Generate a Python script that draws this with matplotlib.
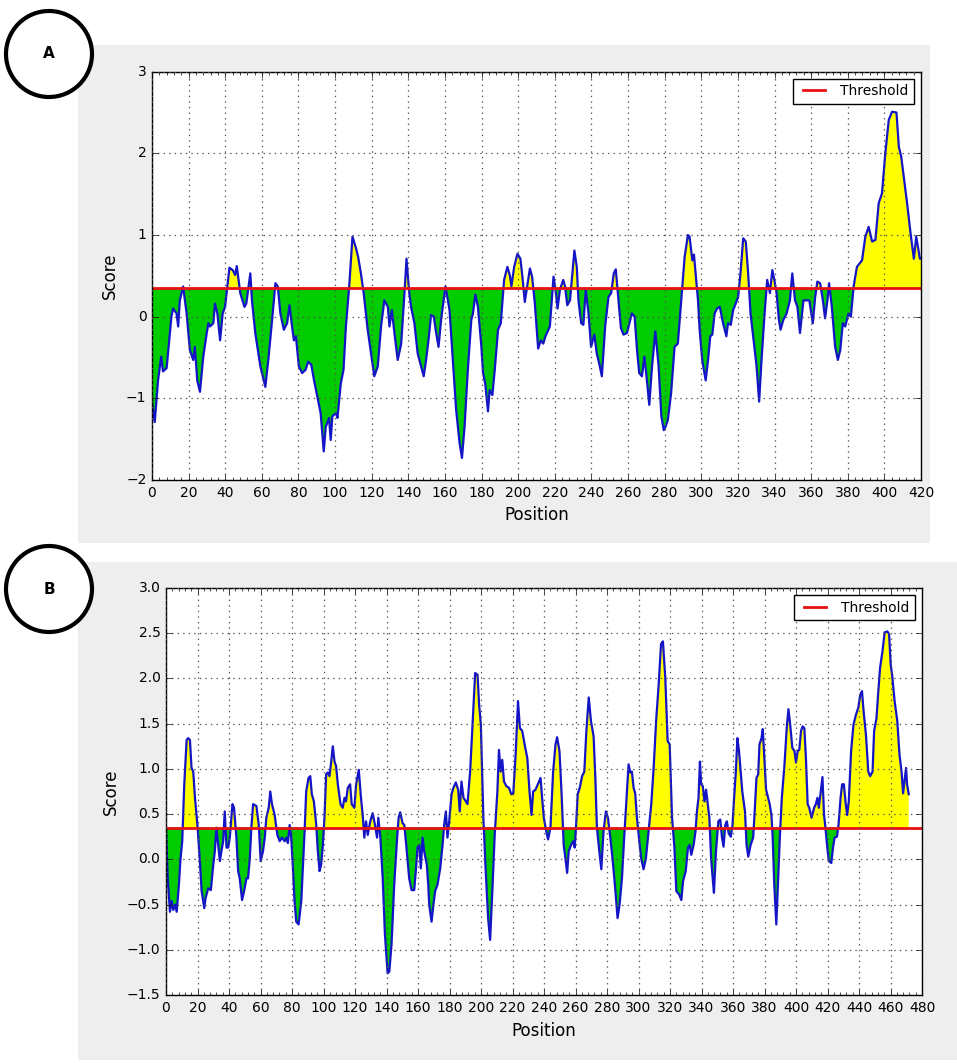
import matplotlib
matplotlib.use('Agg')
import matplotlib.pyplot as plt
from matplotlib.patches import Rectangle, Ellipse
from matplotlib.lines import Line2D
from matplotlib.ticker import AutoMinorLocator, MultipleLocator

plt.style.use('classic')

threshold = 0.35

# panel A: position / score
pos_a = [0, 1.5, 3.3, 5, 6, 8, 10.6, 11.5, 13.4, 14.3, 15.2, 17, 18.9, 20.7, 22.5, 23.4, 24.7, 26.2, 28, 29.9,
         30.8, 31.7, 33.5, 34.4, 35.7, 37.2, 38.6, 39.9, 42.3, 44.1, 45.4, 46.3, 48.2, 50.5, 51.5, 53.7, 54.6,
         56.4, 59.2, 61.9, 63.7, 65.6, 67.4, 68.7, 70.1, 72, 73.8, 75.1, 76.5, 77.5, 78.6, 80.2, 82, 83.9, 85.3,
         87, 88.5, 90.3, 92.1, 93.8, 94.9, 96.7, 97.6, 98.5, 100.4, 101.3, 103.1, 104.6, 105.9, 107.7, 109.5,
         111.4, 112.6, 114.1, 115.6, 117.8, 121.4, 123.3, 125.1, 126.9, 128.8, 129.7, 131, 132.4, 134.2, 136.1,
         137.9, 139, 140.5, 141.5, 143.3, 145.1, 147, 148.4, 149.7, 151, 152.4, 153.9, 155.2, 156.5, 157.9,
         158.8, 160.3, 162.5, 164.3, 166.1, 168, 169.3, 170.7, 172.5, 174.4, 175.3, 176.6, 178, 179.9, 180.8,
         182, 183.5, 184.4, 185.9, 187.2, 189, 190.5, 192.3, 194.1, 195.4, 196.3, 197.8, 199.6, 201.2, 202.3,
         203.6, 204.9, 206.4, 207.6, 209.1, 210.9, 212.4, 213.7, 214.9, 217.3, 219.3, 220.6, 221.5, 222.8,
         224.6, 225.6, 226.8, 228.3, 229.6, 230.7, 232, 232.9, 234.4, 235.6, 236.9, 238.4, 239.8, 241.6, 242.9,
         244.2, 245.7, 247.5, 249.3, 250.8, 252.2, 253.3, 254.8, 256.1, 257.5, 259.4, 260.3, 262.1, 263.6,
         264.9, 266.1, 267.6, 268.9, 270.3, 271.6, 273.1, 274.9, 276.7, 278.2, 279.5, 280.4, 281.7, 283.5,
         285.4, 287.2, 288.5, 289.9, 290.9, 292.7, 293.6, 295.1, 296, 296.9, 298.2, 299.1, 300.5, 302.4, 303.7,
         304.9, 306, 307.3, 308.6, 310.1, 311.9, 313.7, 314.6, 316.1, 317.4, 318.8, 320.1, 321.4, 322.9, 324.3,
         325.6, 326.9, 328.3, 330.2, 331.6, 332.9, 334.7, 336, 337.5, 338.8, 339.9, 341.1, 342.4, 343.3, 344.8,
         346.6, 348.4, 349.7, 351.2, 352.5, 353.9, 355.8, 357.6, 359, 360.9, 362.2, 363.4, 364.9, 366.4, 367.6,
         368.9, 369.8, 371.3, 373.1, 374.6, 375.9, 377.3, 378.6, 380.4, 381.7, 383.2, 385, 387.8, 389.6, 391.4,
         393.3, 395.1, 396.9, 398.7, 400.5, 402.4, 404.2, 406.6, 407.9, 409.2, 410.6, 412.4, 414.3, 416.1,
         417.4, 418.3, 419.4, 420]
score_a = [-1.05, -1.29, -0.78, -0.49, -0.67, -0.63, 0.0, 0.1, 0.04, -0.12, 0.2, 0.37, 0.04, -0.41, -0.53, -0.37,
           -0.78, -0.92, -0.49, -0.2, -0.08, -0.12, -0.08, 0.16, 0.04, -0.29, 0.04, 0.12, 0.6, 0.57, 0.51, 0.62,
           0.29, 0.12, 0.16, 0.53, 0.2, -0.2, -0.61, -0.86, -0.49, -0.04, 0.41, 0.37, 0.04, -0.16, -0.08, 0.14,
           -0.12, -0.29, -0.24, -0.61, -0.69, -0.65, -0.55, -0.59, -0.78, -0.98, -1.18, -1.65, -1.35, -1.24,
           -1.51, -1.22, -1.18, -1.24, -0.82, -0.65, -0.12, 0.37, 0.98, 0.84, 0.73, 0.53, 0.29, -0.16, -0.73,
           -0.61, -0.12, 0.2, 0.12, -0.12, 0.08, -0.2, -0.53, -0.33, 0.29, 0.71, 0.29, 0.12, -0.08, -0.45, -0.61,
           -0.73, -0.53, -0.29, 0.02, 0.0, -0.2, -0.37, -0.04, 0.12, 0.37, 0.08, -0.53, -1.14, -1.55, -1.73,
           -1.35, -0.65, -0.04, 0.04, 0.27, 0.12, -0.37, -0.69, -0.82, -1.16, -0.9, -0.96, -0.65, -0.16, -0.08,
           0.45, 0.61, 0.51, 0.37, 0.61, 0.77, 0.71, 0.49, 0.18, 0.37, 0.59, 0.49, 0.16, -0.39, -0.29, -0.33,
           -0.24, -0.12, 0.49, 0.29, 0.1, 0.33, 0.45, 0.37, 0.14, 0.2, 0.53, 0.81, 0.61, 0.2, -0.08, -0.1, 0.33,
           0.04, -0.37, -0.22, -0.45, -0.57, -0.73, -0.12, 0.24, 0.29, 0.53, 0.58, 0.2, -0.14, -0.22, -0.2,
           -0.12, 0.04, 0.0, -0.41, -0.69, -0.73, -0.49, -0.78, -1.08, -0.61, -0.18, -0.61, -1.22, -1.39, -1.35,
           -1.27, -0.94, -0.37, -0.33, 0.04, 0.45, 0.73, 1.0, 0.98, 0.69, 0.76, 0.53, 0.2, -0.16, -0.53, -0.78,
           -0.53, -0.24, -0.22, 0.04, 0.1, 0.12, -0.08, -0.24, -0.08, -0.1, 0.08, 0.16, 0.24, 0.53, 0.96, 0.92,
           0.53, 0.04, -0.24, -0.61, -1.04, -0.53, 0.08, 0.45, 0.29, 0.57, 0.45, 0.29, -0.04, -0.16, -0.04, 0.04,
           0.2, 0.53, 0.2, 0.12, -0.2, 0.2, 0.2, 0.2, -0.08, 0.24, 0.43, 0.41, 0.2, -0.02, 0.2, 0.41, 0.12, -0.37,
           -0.53, -0.41, -0.08, -0.12, 0.04, 0.0, 0.37, 0.61, 0.69, 0.98, 1.1, 0.92, 0.94, 1.39, 1.51, 2.0, 2.41,
           2.51, 2.5, 2.08, 1.96, 1.71, 1.39, 1.02, 0.71, 0.98, 0.86, 0.71, 0.71]

# panel B: position / score
pos_b = [0, 1.1, 2.5, 3.6, 4.6, 5.7, 6.8, 8.2, 9.1, 10.3, 11.6, 13.1, 14.1, 15.2, 16.2, 17.3, 18.4, 20, 21.5, 22.6,
         24.3, 25.1, 26.8, 28.5, 30, 31, 32, 33.1, 34.2, 35.2, 36.3, 37.3, 38.4, 39.5, 40.5, 42.2, 43.2, 44.7,
         45.8, 46.8, 48.3, 49.6, 51.1, 52.1, 53.2, 54.2, 55.3, 57.4, 58.9, 60.1, 61.6, 62.7, 63.7, 65.2, 66.2,
         67.3, 69, 70.7, 72.2, 73.6, 75.3, 76.4, 77.4, 78.5, 79.5, 80.6, 81.6, 82.7, 84.2, 85.9, 86.9, 88, 89,
         90.5, 91.6, 92.6, 93.9, 95.4, 96.4, 97.5, 98.5, 99.6, 100.6, 101.7, 102.7, 103.8, 104.9, 105.9, 107,
         108, 109.1, 110.8, 112.2, 113.3, 114.3, 115.4, 116.9, 117.9, 119.6, 120.7, 122.4, 123.8, 124.9, 125.9,
         127, 128.1, 129.7, 131.2, 132.7, 134, 134.8, 136.1, 137.6, 139, 140.7, 141.8, 143.2, 144.9, 146.6,
         147.7, 148.7, 150.2, 151.3, 152.3, 154.4, 155.9, 157.6, 158.6, 159.7, 160.8, 161.8, 162.9, 163.9,
         165.6, 166.5, 167.1, 168.6, 169.8, 170.9, 172.4, 174.1, 175.6, 176.6, 177.7, 178.7, 179.8, 181.3,
         182.5, 184, 185.5, 186.5, 187.6, 188.9, 190.4, 191.4, 193.1, 194.6, 196.3, 197.8, 198.8, 199.9, 201.5,
         203, 204.5, 205.8, 207.2, 208.7, 210.4, 211.4, 212.5, 213.5, 214.6, 216.1, 217.8, 219.2, 220.5, 222,
         223.5, 224.7, 226.2, 227.7, 229.4, 230.8, 232.1, 233.1, 234.6, 236.1, 237.8, 238.8, 239.9, 241.4,
         242.6, 244.1, 245.8, 247.3, 248.3, 249.8, 251.1, 252.5, 253.6, 254.7, 255.7, 257.2, 258.5, 259.5,
         260.4, 261.4, 262.7, 264.2, 265.6, 266.9, 268.4, 269.8, 271.5, 272.6, 273.6, 275.1, 276.4, 277.8,
         279.3, 280.6, 282.1, 283.5, 285.2, 286.7, 288, 289.5, 291, 292.2, 293.7, 294.8, 295.8, 296.9, 297.9,
         299, 300.5, 301.7, 303.2, 304.7, 306.4, 308.1, 309.6, 311.3, 312.8, 314.3, 315.5, 317, 318.5, 319.8,
         321.3, 322.8, 324, 325.8, 327.2, 328.3, 330, 331.4, 332.5, 333.5, 335, 336.2, 337.1, 338.1, 339,
         339.8, 340.8, 341.9, 342.9, 344, 345, 346.1, 347.1, 347.9, 349.2, 350.7, 351.9, 353, 354, 355.1,
         356.1, 357.2, 358.6, 359.7, 360.7, 361.8, 362.8, 363.8, 364.9, 365.9, 367.6, 368.6, 369.7, 371.2,
         372.8, 373.9, 374.9, 376, 376.8, 378.1, 378.9, 380.1, 381, 382.3, 383.3, 384.4, 385.2, 386.2, 387.5,
         388.5, 389.8, 391, 392.7, 394.1, 395.2, 396.3, 397.7, 399, 400, 401.1, 402.1, 403.2, 404.2, 405.3,
         406.3, 407.4, 408.4, 409.9, 411.5, 412.6, 413.6, 414.5, 415.7, 416.8, 417.8, 418.7, 419.7, 420.8,
         422.4, 423.5, 424.5, 426, 427, 428.3, 429.3, 430.4, 431.4, 432.5, 433.5, 435, 436.5, 438.1, 439.6,
         440.8, 441.9, 442.9, 444.4, 445.9, 447.1, 448.6, 449.6, 451.1, 452.1, 453.4, 454.9, 456.3, 458, 459.1,
         460.1, 461.2, 462.6, 464.3, 465.7, 467, 468, 469.1, 469.9, 470.5, 471.6]
score_b = [0.35, -0.21, -0.58, -0.46, -0.56, -0.5, -0.58, -0.28, -0.02, 0.2, 0.83, 1.32, 1.34, 1.32, 1.01, 0.97,
           0.68, 0.37, -0.02, -0.35, -0.54, -0.43, -0.32, -0.34, -0.06, 0.09, 0.35, 0.16, -0.02, 0.09, 0.2, 0.53,
           0.13, 0.13, 0.24, 0.61, 0.57, 0.24, -0.13, -0.21, -0.45, -0.35, -0.21, -0.21, 0.01, 0.35, 0.61, 0.59,
           0.38, -0.02, 0.09, 0.24, 0.46, 0.57, 0.75, 0.61, 0.49, 0.27, 0.2, 0.24, 0.2, 0.24, 0.18, 0.38, 0.24,
           -0.1, -0.46, -0.69, -0.72, -0.46, -0.1, 0.31, 0.75, 0.9, 0.92, 0.72, 0.64, 0.38, 0.09, -0.13, -0.06,
           0.16, 0.46, 0.94, 0.96, 0.92, 1.08, 1.25, 1.08, 1.03, 0.83, 0.61, 0.57, 0.68, 0.64, 0.79, 0.83, 0.61,
           0.57, 0.83, 0.99, 0.68, 0.49, 0.24, 0.42, 0.27, 0.42, 0.51, 0.38, 0.24, 0.46, 0.24, -0.21, -0.83,
           -1.26, -1.24, -0.94, -0.28, 0.2, 0.46, 0.52, 0.4, 0.38, 0.2, -0.21, -0.34, -0.34, -0.13, 0.13, 0.16,
           -0.1, 0.24, 0.09, -0.06, -0.28, -0.5, -0.69, -0.5, -0.35, -0.28, -0.1, 0.16, 0.38, 0.53, 0.24, 0.42,
           0.72, 0.79, 0.85, 0.77, 0.53, 0.86, 0.68, 0.64, 0.61, 0.97, 1.49, 2.06, 2.04, 1.71, 1.49, 0.46, -0.13,
           -0.65, -0.89, -0.35, 0.27, 0.75, 1.21, 0.97, 1.1, 0.86, 0.81, 0.79, 0.72, 0.73, 1.16, 1.75, 1.45, 1.42,
           1.27, 1.12, 0.75, 0.49, 0.75, 0.77, 0.83, 0.9, 0.68, 0.46, 0.31, 0.22, 0.35, 0.97, 1.27, 1.35, 1.2,
           0.75, 0.16, 0.01, -0.15, 0.09, 0.16, 0.2, 0.13, 0.38, 0.72, 0.79, 0.92, 0.97, 1.42, 1.79, 1.53, 1.36,
           0.9, 0.35, 0.09, -0.11, 0.31, 0.53, 0.46, 0.24, 0.01, -0.32, -0.65, -0.5, -0.21, 0.27, 0.61, 1.05,
           0.96, 0.97, 0.79, 0.73, 0.46, 0.2, 0.01, -0.11, 0.01, 0.31, 0.61, 1.01, 1.56, 1.93, 2.38, 2.41, 2.01,
           1.31, 1.27, 0.46, 0.13, -0.35, -0.39, -0.45, -0.24, -0.13, 0.13, 0.16, 0.05, 0.16, 0.31, 0.53, 0.68,
           1.08, 0.83, 0.81, 0.64, 0.77, 0.61, 0.46, 0.01, -0.21, -0.37, 0.09, 0.42, 0.44, 0.24, 0.14, 0.38, 0.42,
           0.29, 0.25, 0.38, 0.68, 0.97, 1.34, 1.2, 0.97, 0.75, 0.53, 0.16, 0.03, 0.16, 0.24, 0.57, 0.9, 0.94,
           1.27, 1.34, 1.44, 1.05, 0.77, 0.68, 0.61, 0.49, 0.24, -0.28, -0.72, -0.28, 0.27, 0.68, 1.05, 1.45,
           1.66, 1.49, 1.23, 1.2, 1.07, 1.2, 1.21, 1.42, 1.47, 1.45, 1.12, 0.61, 0.57, 0.46, 0.57, 0.61, 0.68,
           0.57, 0.75, 0.91, 0.49, 0.35, 0.16, -0.02, -0.04, 0.13, 0.24, 0.25, 0.38, 0.68, 0.83, 0.83, 0.64,
           0.49, 0.64, 1.2, 1.49, 1.6, 1.68, 1.82, 1.86, 1.64, 1.38, 0.97, 0.92, 0.97, 1.42, 1.56, 1.82, 2.12,
           2.3, 2.51, 2.52, 2.49, 2.16, 2.01, 1.75, 1.53, 1.16, 0.97, 0.73, 0.9, 1.01, 0.83, 0.72]

W, H = 957, 1063
fig = plt.figure(figsize=(W / 100, H / 100), dpi=100, facecolor='white')

# gray panel backgrounds (behind the axes)
for x0, y0, x1, y1 in [(78, 45, 930, 543), (78, 562, 957, 1060)]:
    fig.patches.append(Rectangle((x0 / W, 1 - y1 / H), (x1 - x0) / W, (y1 - y0) / H,
                                 transform=fig.transFigure, facecolor='#eeeeee', edgecolor='none', zorder=-5))

# circled panel letters
for label, cy in [('A', 54), ('B', 589)]:
    fig.patches.append(Ellipse((49 / W, 1 - cy / H), 86 / W, 86 / H, transform=fig.transFigure,
                               facecolor='white', edgecolor='black', linewidth=3, zorder=-4))
    fig.text(49 / W, 1 - cy / H, label, ha='center', va='center', fontsize=11, fontweight='bold')


def panel(rect, pos, score, xmax, ylim, ystep):
    ax = fig.add_axes(rect)
    ax.set_facecolor('white')
    ax.fill_between(pos, score, threshold, where=[s >= threshold for s in score],
                    interpolate=True, color='#ffff00', linewidth=0)
    ax.fill_between(pos, score, threshold, where=[s <= threshold for s in score],
                    interpolate=True, color='#00cc00', linewidth=0)
    ax.plot(pos, score, color='#1515c8', linewidth=1.6)
    ax.axhline(threshold, color='#e81010', linewidth=2)
    ax.set_xlim(0, xmax)
    ax.set_ylim(*ylim)
    ax.xaxis.set_major_locator(MultipleLocator(20))
    ax.xaxis.set_minor_locator(AutoMinorLocator(5))
    ax.yaxis.set_major_locator(MultipleLocator(ystep))
    ax.grid(True, which='major', color='#555555', linestyle=':', linewidth=0.9)
    ax.tick_params(labelsize=10, direction='in', top=True, right=True)
    ax.set_xlabel('Position', fontsize=12)
    ax.set_ylabel('Score', fontsize=12)
    h = Line2D([], [], color='#e81010', linewidth=2)
    leg = ax.legend([h], ['Threshold'], loc='upper right', fontsize=10, fancybox=False,
                    handlelength=2.2, borderaxespad=0.5)
    leg.get_frame().set_edgecolor('black')
    return ax


panel([152 / W, 1 - 480 / H, (921 - 152) / W, (480 - 71.7) / H], pos_a, score_a, 420, (-2, 3), 1)
panel([166 / W, 1 - 995 / H, (922 - 166) / W, (995 - 588) / H], pos_b, score_b, 480, (-1.5, 3.0), 0.5)

fig.savefig('out.png', dpi=100, facecolor='white')
